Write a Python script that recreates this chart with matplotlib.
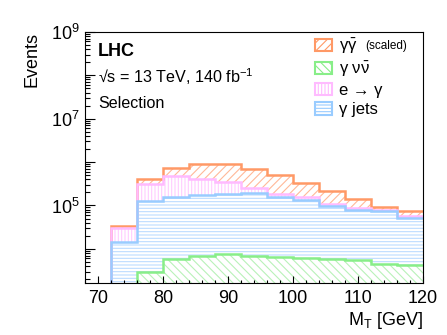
import numpy as np
import matplotlib
matplotlib.use("Agg")
import matplotlib.pyplot as plt
from matplotlib.patches import Patch
from matplotlib.ticker import FixedLocator, FuncFormatter, LogLocator

plt.rcParams['font.family'] = ['Liberation Sans', 'DejaVu Sans']
plt.rcParams['mathtext.fontset'] = 'custom'
plt.rcParams['mathtext.rm'] = 'Liberation Sans'
plt.rcParams['mathtext.it'] = 'Liberation Sans'
plt.rcParams['hatch.linewidth'] = 0.8

# bins of M_T [GeV]
edges = np.arange(68, 121, 4)

# events per bin, stacked from bottom to top
gnn = [0, 0, 3000, 5700, 6800, 7500, 7000, 6600, 6100, 5700, 5500, 4600, 4200]
gjets = [0, 14200, 127000, 149000, 163000, 171500, 185000, 148000, 129000, 89000, 75000, 68000, 46700]
efake = [0, 16300, 187000, 313000, 244000, 166000, 64000, 31000, 18000, 13200, 9100, 6100, 6300]
gg = [0, 4000, 81000, 275000, 471000, 540000, 449000, 326000, 174000, 110000, 53000, 12700, 15400]

labels = [r'$\gamma$ $\nu\bar{\nu}$', 'γ jets', 'e → γ', r'$\gamma\bar{\gamma}$']
line_colors = ['#88ee88', '#99ccff', '#ffbbff', '#ff9966']
hatch_colors = ['#b8f2b8', '#bcdcff', '#ffccff', '#ffb898']
hatches = ['\\\\\\\\', '-----', '|||||', '////']

fig = plt.figure(figsize=(4.47, 3.35), dpi=100)
ax = fig.add_axes([0.19, 0.154, 0.756, 0.751])
ax.set_yscale('log')

layers = [gnn, gjets, efake, gg]
bottom = np.zeros(len(edges) - 1)
tops = []
for vals, hc, h in zip(layers, hatch_colors, hatches):
    top = bottom + np.array(vals, dtype=float)
    ax.stairs(top, edges, baseline=bottom, fill=True, facecolor='none',
              edgecolor=hc, hatch=h, lw=0)
    tops.append(top)
    bottom = top

# outlines, highest first so the lower ones sit on top
for top, c in reversed(list(zip(tops, line_colors))):
    ax.stairs(top, edges, baseline=None, color=c, lw=1.8)

ax.set_xlim(68, 120)
ax.set_ylim(1600, 1e9)

ax.yaxis.set_major_locator(FixedLocator([10.0**k for k in range(3, 10)]))
ax.yaxis.set_major_formatter(FuncFormatter(
    lambda v, p: r'$\mathregular{10^{%d}}$' % round(np.log10(v)) if round(np.log10(v)) % 2 == 1 else ''))
ax.yaxis.set_minor_locator(LogLocator(base=10, subs=np.arange(2, 10), numticks=20))
ax.yaxis.set_minor_formatter(FuncFormatter(lambda v, p: ''))
ax.set_xticks([70, 80, 90, 100, 110, 120])
ax.set_xticks(np.arange(68, 121, 2), minor=True)

ax.tick_params(axis='both', which='both', direction='in', labelsize=13)
ax.tick_params(axis='y', which='major', length=7, width=0.8)
ax.tick_params(axis='y', which='minor', length=3.5, width=0.8)
ax.tick_params(axis='x', which='major', length=5, width=0.8, pad=5)
ax.tick_params(axis='x', which='minor', length=2.5, width=0.8)
for s in ax.spines.values():
    s.set_linewidth(0.8)

ax.set_xlabel(r'M$_{\mathregular{T}}$ [GeV]', fontsize=13, loc='right', labelpad=2)
ax.set_ylabel('Events', fontsize=13, loc='top', labelpad=8)

ax.text(0.038, 0.92, 'LHC', transform=ax.transAxes, fontsize=13, fontweight='bold', va='center')
ax.text(0.038, 0.82, '√s = 13 TeV, 140 fb$^{\\mathregular{-1}}$', transform=ax.transAxes, fontsize=11.6, va='center')
ax.text(0.038, 0.717, 'Selection', transform=ax.transAxes, fontsize=11.6, va='center')

order = [3, 0, 2, 1]
handles = [Patch(facecolor='white', edgecolor=line_colors[i], hatch=hatches[i], lw=1.5) for i in order]
leg = ax.legend(handles, [labels[i] for i in order], loc='upper left',
                bbox_to_anchor=(0.672, 0.995), frameon=False, fontsize=12,
                handlelength=1.0, handleheight=0.75, labelspacing=0.25,
                handletextpad=0.4, borderaxespad=0, borderpad=0.2)
ax.text(0.83, 0.945, '(scaled)', transform=ax.transAxes, fontsize=8.5, va='center')

fig.savefig('out.png', dpi=100)
